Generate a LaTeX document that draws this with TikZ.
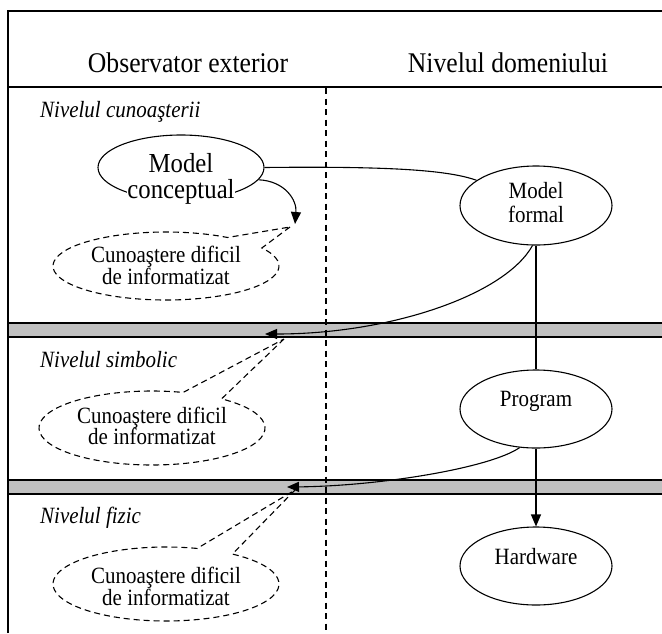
\documentclass[tikz,border=0pt]{standalone}
\usepackage{fontspec}
\setmainfont{Liberation Serif}[FakeStretch=0.9]
\usetikzlibrary{arrows.meta,shapes.geometric}
\definecolor{bandgray}{RGB}{192,192,192}
\begin{document}
\begin{tikzpicture}[x=1pt,y=-1pt,
  frame/.style={line width=1.4pt},
  ell/.style={draw, ellipse, line width=1.1pt, inner sep=0pt},
  conn/.style={line width=1.1pt},
  arr/.style={line width=1.1pt, -{Triangle[length=12pt,width=10pt]}},
  callout/.style={line width=1.1pt, dash pattern=on 6pt off 4pt},
  vdash/.style={line width=1.1pt, dash pattern=on 6pt off 4.5pt},
  head/.style={font=\fontsize{28.5}{32}\selectfont, anchor=base, inner sep=0pt},
  lvl/.style={font=\fontsize{23.3}{26}\selectfont\itshape, anchor=base west, inner sep=0pt},
  txt/.style={font=\fontsize{23.3}{26}\selectfont, anchor=base, inner sep=0pt},
  big/.style={font=\fontsize{27.5}{26}\selectfont, align=center, inner sep=0pt},
]
\useasboundingbox (0,0) rectangle (662,633);

% bands
\fill[bandgray] (8,323) rectangle (662,337);
\draw[frame] (8,323) -- (662,323) (8,337) -- (662,337);
\fill[bandgray] (8,480) rectangle (662,494);
\draw[frame] (8,480) -- (662,480) (8,494) -- (662,494);

% frame
\draw[frame] (8,633) -- (8,11) -- (662,11);
\draw[frame] (8,87) -- (662,87);
\draw[vdash] (326,88) -- (326,630);

% headers
\node[head] (hobs) at (188,72) {Observator exterior};
\node[head] (hdom) at (508,72) {Nivelul domeniului};

% level labels
\node[lvl] (l1) at (40,117) {Nivelul cunoaşterii};
\node[lvl] (l2) at (40,367) {Nivelul simbolic};
\node[lvl] (l3) at (40,523) {Nivelul fizic};

% ellipses
\node[ell, minimum width=166pt, minimum height=65pt] (mc) at (181,167.5) {};
\node[big, fill=white] (mct) at (181,178.5) {Model\\conceptual};

\node[ell, minimum width=152pt, minimum height=79pt] (mf) at (536,205.5) {};
\node[txt] (mft1) at (536,198) {Model};
\node[txt] (mft2) at (536,222) {formal};

\node[ell, minimum width=152pt, minimum height=78pt] (prog) at (536,409) {};
\node[txt] (progt) at (536,406) {Program};

\node[ell, minimum width=152pt, minimum height=78pt] (hw) at (536,566) {};
\node[txt] (hwt) at (536,564) {Hardware};

% callouts
\coordinate (c1) at (166,266); \coordinate (t1) at (290,227);
\draw[callout] (t1) -- ([shift={(-32:113 and 34)}]c1) arc[start angle=-32, end angle=303, x radius=113, y radius=34] -- cycle;
\node[txt] (k1a) at (166,262) {Cunoaştere dificil};
\node[txt] (k1b) at (166,284) {de informatizat};

\coordinate (c2) at (152,428); \coordinate (t2) at (284,339);
\draw[callout] (t2) -- ([shift={(-52:113 and 37)}]c2) arc[start angle=-52, end angle=286, x radius=113, y radius=37] -- cycle;
\node[txt] (k2a) at (152,423) {Cunoaştere dificil};
\node[txt] (k2b) at (152,444) {de informatizat};

\coordinate (c3) at (166,584); \coordinate (t3) at (295,490);
\draw[callout] (t3) -- ([shift={(-54:113 and 37)}]c3) arc[start angle=-54, end angle=286, x radius=113, y radius=37] -- cycle;
\node[txt] (k3a) at (166,583) {Cunoaştere dificil};
\node[txt] (k3b) at (166,605) {de informatizat};

% connectors
\coordinate (a1e) at (295,224);
\coordinate (a2e) at (265,334);
\coordinate (a3e) at (287,487);
\draw[arr] (mc.-9) .. controls (285,181) and (297,200) .. (a1e);
\draw[conn] (mc.east) .. controls (400,166) and (450,171) .. (mf.157);
\draw[arr] (mf.-95) .. controls (505,295) and (390,334) .. (a2e);
\draw[conn] (mf.south) -- (prog.north);
\draw[arr] (prog.-113) .. controls (490,468) and (380,486) .. (a3e);
\draw[arr] (prog.south) -- (hw.north);
\end{tikzpicture}
\end{document}
